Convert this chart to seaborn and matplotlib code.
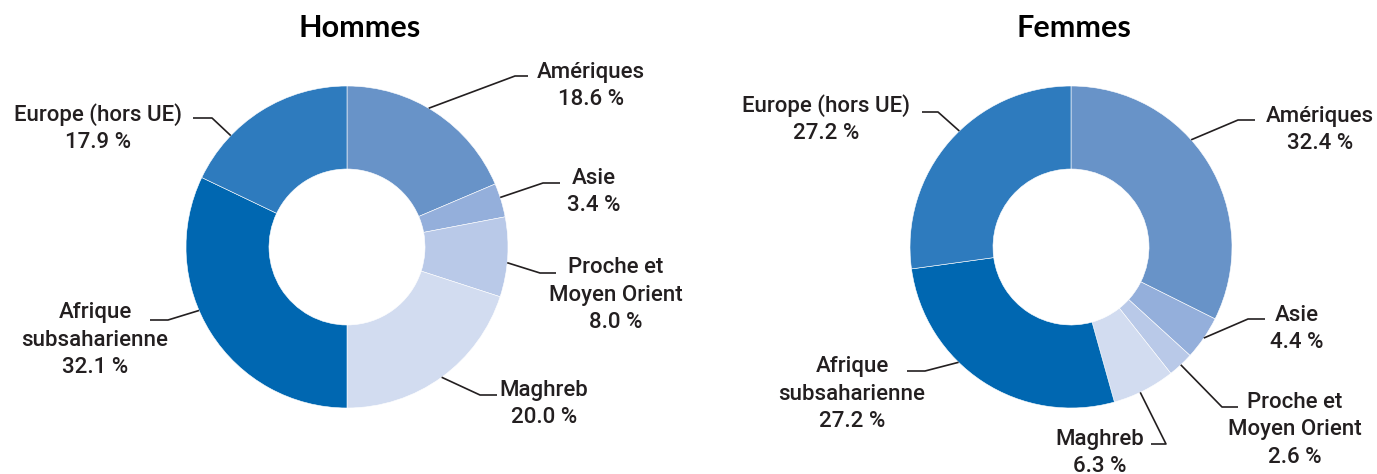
import numpy as np
import matplotlib.pyplot as plt
import seaborn as sns

regions = ["Amériques", "Asie", "Proche et\nMoyen Orient", "Maghreb",
           "Afrique\nsubsaharienne", "Europe (hors UE)"]
hommes = [18.6, 3.4, 8.0, 20.0, 32.1, 17.9]
femmes = [32.4, 4.4, 2.6, 6.3, 27.2, 27.2]
colors = ["#6893c8", "#94afdb", "#b9c9e8", "#d2dcf0", "#0067b1", "#2e7bbe"]

W, H = 1377, 474

# layout in pixels from top-left: (text_x, text_y, elbow, end, angle offset of the leader)
layout_h = [
    (591, 86, (515, 76), (528, 76), 3),
    (594, 192, (543, 183), (560, 183), 1),
    (616, 295, (540, 273), (556, 273), -2),
    (544, 404, (480, 395), (497, 395), 0),
    (95, 340, (168, 320), (150, 320), -9),
    (98, 128, (212, 118), (193, 118), 14),
]
layout_f = [
    (1320, 130, (1238, 120), (1255, 120), 10),
    (1297, 329, (1248, 319), (1265, 319), 0),
    (1295, 430, (1222, 407), (1238, 407), 0),
    (1100, 453, (1166, 444), (1151, 444), -1.5),
    (852, 394, (925, 371), (907, 371), -11),
    (826, 119, (938, 112), (922, 112), -5),
]

sns.set_theme(style="white")
plt.rcParams["font.family"] = ["Roboto", "DejaVu Sans"]

fig = plt.figure(figsize=(W / 100, H / 100), dpi=100)
ax = fig.add_axes([0, 0, 1, 1])


def donut(values, cx, cy, layout, title, title_x):
    r_out, r_in = 161, 78
    wedges, _ = ax.pie(values, colors=colors, startangle=90, counterclock=False,
                       radius=r_out, center=(cx, H - cy),
                       wedgeprops=dict(width=r_out - r_in, edgecolor="white", linewidth=0.4))
    for w, v, name, (tx, ty, elbow, end, off) in zip(wedges, values, regions, layout):
        ang = np.deg2rad((w.theta1 + w.theta2) / 2 + off)
        ax0 = cx + r_out * np.cos(ang)
        ay0 = H - cy + r_out * np.sin(ang)
        ax.plot([ax0, elbow[0], end[0]], [ay0, H - elbow[1], H - end[1]],
                color="#231f20", lw=1.2, solid_capstyle="butt")
        ax.text(tx, H - ty, f"{name}\n{v:.1f} %", ha="center", va="center",
                multialignment="center", fontsize=16, linespacing=1.4,
                fontweight="medium", color="#231f20")
    ax.text(title_x, H - 28, title, ha="center", va="center", fontsize=22,
            fontweight="bold", family="Lato", color="black")


donut(hommes, 347, 247, layout_h, "Hommes", 360)
donut(femmes, 1071, 247, layout_f, "Femmes", 1074)

ax.set_xlim(0, W)
ax.set_ylim(0, H)
ax.set_aspect("equal")
ax.axis("off")

fig.savefig("out.png", dpi=100)
